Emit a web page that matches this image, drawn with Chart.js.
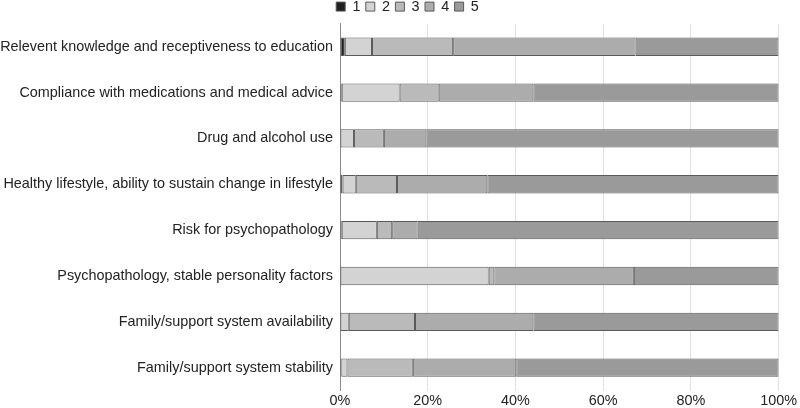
<!DOCTYPE html>
<html>
<head>
<meta charset="utf-8">
<script src="https://cdn.jsdelivr.net/npm/chart.js@4"></script>
<style>
  html, body { margin: 0; padding: 0; background: #fff; }
  #wrap { width: 800px; height: 408px; }
</style>
</head>
<body>
<div id="wrap"><canvas id="chart"></canvas></div>
<script>
// categories (top to bottom)
const categories = [
    'Relevent knowledge and receptiveness to education',
    'Compliance with medications and medical advice',
    'Drug and alcohol use',
    'Healthy lifestyle, ability to sustain change in lifestyle',
    'Risk for psychopathology',
    'Psychopathology, stable personality factors',
    'Family/support system availability',
    'Family/support system stability'
];

// percentages per rating
const rating1 = [1.1, 0.4, 0, 0.6, 0.4, 0, 0, 0.3];
const rating2 = [6.2, 13.2, 3.2, 3.0, 8.0, 33.9, 2.0, 1.4];
const rating3 = [18.5, 8.9, 6.8, 9.4, 3.5, 1.3, 15.1, 14.9];
const rating4 = [41.6, 21.6, 9.7, 20.6, 5.8, 31.8, 27.0, 23.6];
const rating5 = [32.6, 55.9, 80.3, 66.4, 82.3, 33.0, 55.9, 59.8];

const seriesNames = ['1', '2', '3', '4', '5'];
const seriesValues = [rating1, rating2, rating3, rating4, rating5];
const fills = ['#1e1e1e', '#d3d3d3', '#bababa', '#acacac', '#9a9a9a'];

const xTicks = [0, 20, 40, 60, 80, 100];

const font = { family: 'Liberation Sans', size: 14.4, lineHeight: 1 };

const datasets = seriesNames.map((name, i) => ({
    label: name,
    data: seriesValues[i],
    backgroundColor: fills[i],
    borderColor: '#5a5a5a',
    borderWidth: 1,
    borderSkipped: false,
    barPercentage: 0.8,
    categoryPercentage: 0.5
}));

// nudge the legend a little to the right, like the original
const legendShift = {
    id: 'legendShift',
    beforeDraw(chart) {
        if (chart.legend) chart.legend.left = 34;
    }
};

new Chart(document.getElementById('chart'), {
    type: 'bar',
    data: { labels: categories, datasets: datasets },
    plugins: [legendShift],
    options: {
        indexAxis: 'y',
        responsive: true,
        maintainAspectRatio: false,
        animation: false,
        layout: { padding: { left: 0, right: 19, top: -6, bottom: -3 } },
        plugins: {
            tooltip: { enabled: false },
            legend: {
                position: 'top',
                labels: {
                    boxWidth: 9,
                    boxHeight: 9,
                    padding: 5.4,
                    color: '#222',
                    font: font
                }
            }
        },
        scales: {
            x: {
                stacked: true,
                min: 0,
                max: 100,
                afterBuildTicks: function(scale) {
                    scale.ticks = xTicks.map(v => ({ value: v }));
                },
                ticks: {
                    color: '#222',
                    padding: 3,
                    font: font,
                    callback: function(value) { return value + '%'; }
                },
                grid: { color: '#e2e2e2', drawTicks: false },
                border: { display: false }
            },
            y: {
                stacked: true,
                afterFit: function(scale) { scale.width = 340; },
                ticks: {
                    color: '#222',
                    padding: 7,
                    font: font
                },
                grid: { display: false, drawTicks: false },
                border: { display: true, color: '#8a8a8a' }
            }
        }
    }
});
</script>
</body>
</html>
